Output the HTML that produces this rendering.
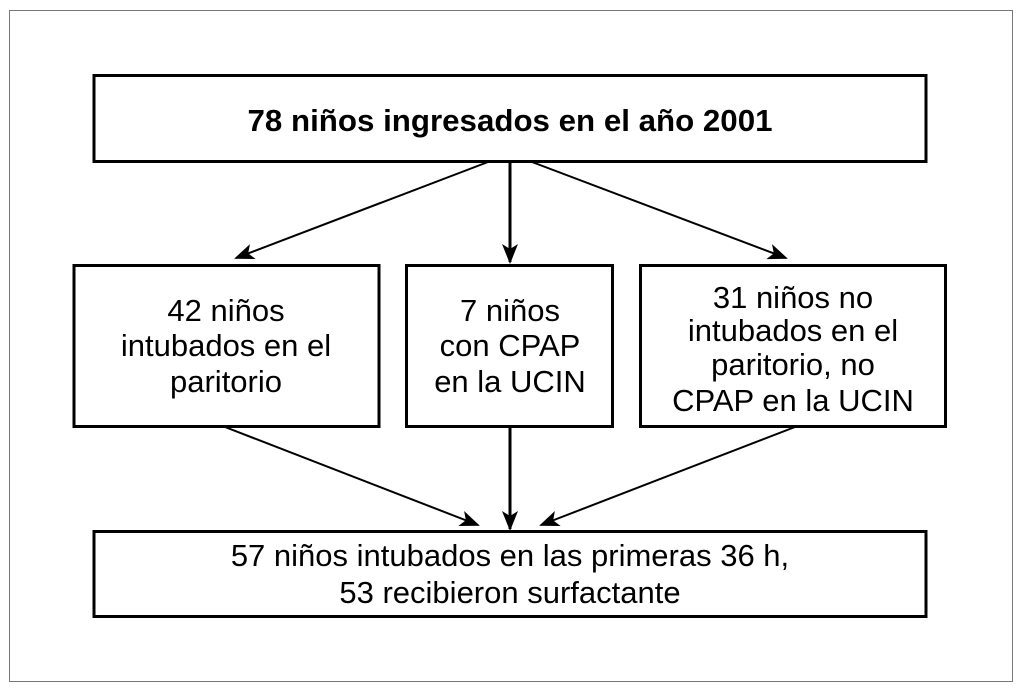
<!DOCTYPE html>
<html><head><meta charset="utf-8"><style>
body{margin:0;width:1024px;height:690px;background:#fff;overflow:hidden}
svg text{font-family:"Liberation Sans",sans-serif;font-size:31px;fill:#000}
</style></head><body>
<svg width="1024" height="690" xmlns="http://www.w3.org/2000/svg">
<defs>
<marker id="b" markerWidth="20" markerHeight="20" refX="18" refY="10" orient="auto" markerUnits="userSpaceOnUse" viewBox="0 0 20 20"><path d="M0,2 L20,10 L0,18 L5,10 z" fill="#000"/></marker></defs>
<rect x="9.5" y="10.5" width="1003" height="671" fill="none" stroke="#777" stroke-width="1"/>
<rect x="94" y="75.5" width="832" height="86" fill="none" stroke="#000" stroke-width="3"/>
<text x="510" y="131" text-anchor="middle" font-weight="bold" textLength="525" lengthAdjust="spacingAndGlyphs">78 niños ingresados en el año 2001</text>
<rect x="74" y="265.5" width="305" height="161" fill="none" stroke="#000" stroke-width="3"/>
<rect x="406.5" y="265.5" width="206" height="161" fill="none" stroke="#000" stroke-width="3"/>
<rect x="640.5" y="265.5" width="305" height="161" fill="none" stroke="#000" stroke-width="3"/>
<text text-anchor="middle"><tspan x="226" y="321">42 niños</tspan><tspan x="226" y="356">intubados en el</tspan><tspan x="226" y="392">paritorio</tspan></text>
<text text-anchor="middle"><tspan x="510" y="321">7 niños</tspan><tspan x="510" y="356">con CPAP</tspan><tspan x="510" y="392">en la UCIN</tspan></text>
<text text-anchor="middle"><tspan x="793" y="308">31 niños no</tspan><tspan x="793" y="341">intubados en el</tspan><tspan x="793" y="375">paritorio, no</tspan><tspan x="793" y="411">CPAP en la UCIN</tspan></text>
<rect x="94" y="531.5" width="832" height="85" fill="none" stroke="#000" stroke-width="3"/>
<text text-anchor="middle"><tspan x="510" y="566">57 niños intubados en las primeras 36 h,</tspan><tspan x="510" y="603">53 recibieron surfactante</tspan></text>
<g stroke="#000" fill="none">
<line x1="488" y1="162" x2="236" y2="258" stroke-width="2" marker-end="url(#b)"/>
<line x1="510" y1="162" x2="510" y2="262" stroke-width="3" marker-end="url(#b)"/>
<line x1="532" y1="162" x2="786" y2="258" stroke-width="2" marker-end="url(#b)"/>
<line x1="225" y1="427" x2="478" y2="525" stroke-width="2" marker-end="url(#b)"/>
<line x1="510" y1="427" x2="510" y2="529" stroke-width="3" marker-end="url(#b)"/>
<line x1="795" y1="427" x2="541" y2="525" stroke-width="2" marker-end="url(#b)"/>
</g>
</svg>
</body></html>
